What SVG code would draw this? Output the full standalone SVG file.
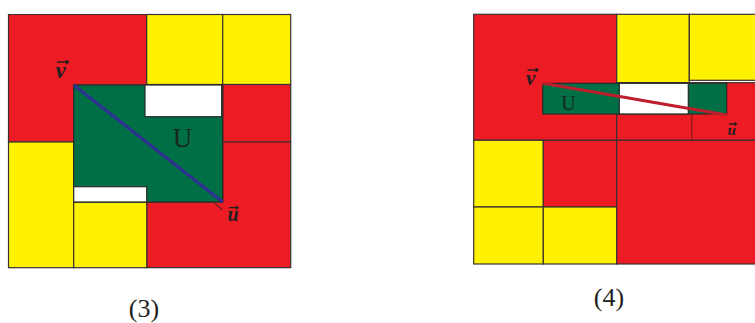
<svg xmlns="http://www.w3.org/2000/svg" width="755" height="323" viewBox="0 0 755 323">
<style>
.r{fill:#ed1c24;stroke:#3a3030;stroke-width:1.2}
.y{fill:#fff200;stroke:#3a3030;stroke-width:1.2}
.g{fill:#006f45;stroke:#2a2a2a;stroke-width:1.2}
.w{fill:#ffffff;stroke:#2a2a2a;stroke-width:1.2}
.lab{font-family:"Liberation Serif",serif;font-weight:bold;font-style:italic;fill:#231f20}
.U{font-family:"Liberation Serif",serif;fill:#17261d}
.cap{font-family:"Liberation Serif",serif;fill:#231f20;font-size:26px}
.ar{stroke:#231f20;stroke-width:1.3;fill:none}
</style>
<g id="panel3">
<path class="r" d="M8.5,14.5H146.7V85H73.7V142H8.5Z"/>
<rect class="y" x="146.7" y="14.5" width="76" height="70"/>
<rect class="y" x="222.7" y="14.5" width="68" height="70"/>
<rect class="r" x="222.7" y="84.5" width="68" height="57.5"/>
<path class="r" d="M222.7,142H290.7V267.7H146.7V202H222.7Z"/>
<rect class="y" x="8.5" y="142" width="65.2" height="125.7"/>
<rect class="y" x="73.7" y="202" width="73" height="65.7"/>
<rect class="g" x="73.7" y="85" width="149" height="117"/>
<rect class="w" x="145" y="85" width="76.7" height="31.7"/>
<rect class="w" x="73.7" y="186.7" width="73" height="15.3"/>
<text class="U" x="182.5" y="147" font-size="27" text-anchor="middle">U</text>
</g>
<g id="panel4">
<rect class="r" x="473.7" y="14.3" width="143" height="126"/>
<rect class="y" x="616.7" y="14.3" width="72.6" height="68.4"/>
<rect class="y" x="689.3" y="14.3" width="70" height="66"/>
<rect class="r" x="616.7" y="82.7" width="140" height="57.6"/>
<line x1="691.7" y1="114" x2="691.7" y2="140.3" stroke="#8a1a1a" stroke-width="1.2"/>
<rect class="y" x="473.7" y="140.3" width="69.6" height="66.7"/>
<rect class="r" x="543.3" y="140.3" width="73.4" height="66.7"/>
<rect class="y" x="473.7" y="207" width="69.6" height="57"/>
<rect class="y" x="543.3" y="207" width="73.4" height="57"/>
<rect class="r" x="616.7" y="140.3" width="140" height="123.7"/>
<rect class="g" x="542.7" y="83.3" width="184" height="30.7"/>
<rect class="w" x="619.3" y="83.3" width="69" height="30.7"/>
<text class="U" x="568.5" y="110" font-size="20" text-anchor="middle">U</text>
</g>
<g id="connectors">
<line x1="73.7" y1="85" x2="222.7" y2="202" stroke="#2e3192" stroke-width="3"/>
<line x1="214.5" y1="203" x2="222.7" y2="210" stroke="#231f20" stroke-width="1"/>
<line x1="541.7" y1="83" x2="726.7" y2="115" stroke="#be1e2d" stroke-width="3.2"/>
</g>
<g id="labels">
<text class="lab" x="55.5" y="77.8" font-size="23">v</text>
<path class="ar" d="M57,62H68.5M66,60L68.5,62L66,64"/>
<text class="lab" x="227.5" y="220.5" font-size="20">u</text>
<path class="ar" d="M229,207.7H238M235.8,205.8L238,207.7L235.8,209.6"/>
<text class="lab" x="526" y="85" font-size="21">v</text>
<path class="ar" d="M527.5,70H538M535.5,68L538,70L535.5,72"/>
<text class="lab" x="727.5" y="135" font-size="15">u</text>
<path class="ar" d="M729,124H736.5M734.6,122.4L736.5,124L734.6,125.6" stroke-width="1"/>
<text class="cap" x="144" y="316.5" text-anchor="middle">(3)</text>
<text class="cap" x="609" y="305.5" text-anchor="middle">(4)</text>
</g>
</svg>
